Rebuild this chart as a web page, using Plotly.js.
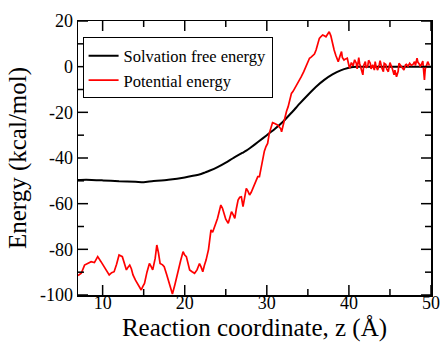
<!DOCTYPE html>
<html>
<head>
<meta charset="utf-8">
<script src="https://cdn.plot.ly/plotly-3.0.1.min.js"></script>
<style>html,body{margin:0;padding:0;background:#fff;}#chart{width:440px;height:342px;}</style>
</head>
<body>
<div id="chart"></div>
<script>
// Solvation free energy (black, smooth)
var solvZ = [7, 8, 10, 12, 14, 15, 16, 18, 20, 21, 22, 22.5, 23, 24, 25, 26, 27, 27.5, 28, 29, 30, 31, 32, 33, 34, 35, 36, 37, 38, 39, 40, 40.5, 41, 42, 44, 46, 48, 50];
var solvE = [-49.6, -49.5, -49.8, -50.2, -50.4, -50.6, -50.2, -49.5, -48.5, -47.8, -47.0, -46.3, -45.6, -44.0, -42.0, -39.8, -37.8, -36.8, -35.5, -32.8, -30.0, -27.2, -24.0, -20.2, -16.2, -12.4, -8.8, -5.8, -3.4, -1.6, -0.5, -0.1, 0, 0, 0, 0, 0, 0];

// Potential energy (red, noisy)
var potZ = [7.0, 7.4, 7.8, 8.2, 8.6, 9.0, 9.2, 9.4, 9.8, 10.2, 10.5, 10.8, 11.1, 11.4, 11.7, 12.0, 12.4, 12.7, 12.9, 13.1, 13.3, 13.5, 13.7, 14.0, 14.3, 14.5, 14.7, 14.9, 15.1, 15.4, 15.7, 15.9, 16.1, 16.4, 16.6, 16.8, 17.0, 17.3, 17.5, 17.8, 18.1, 18.3, 18.5, 18.8, 19.2, 19.5, 19.8, 20.0, 20.2, 20.4, 20.6, 20.9, 21.2, 21.5, 21.8, 22.0, 22.2, 22.4, 22.6, 22.9, 23.2, 23.4, 23.6, 23.8, 24.0, 24.2, 24.4, 24.6, 24.8, 25.0, 25.3, 25.5, 25.7, 25.9, 26.1, 26.3, 26.5, 26.7, 26.9, 27.1, 27.3, 27.5, 27.7, 27.9, 28.1, 28.3, 28.5, 28.7, 28.9, 29.1, 29.3, 29.5, 29.7, 29.9, 30.1, 30.3, 30.5, 30.7, 30.9, 31.1, 31.3, 31.5, 31.7, 31.8, 32.0, 32.2, 32.4, 32.6, 32.8, 33.0, 33.2, 33.4, 33.6, 33.8, 34.0, 34.2, 34.5, 34.8, 35.0, 35.2, 35.4, 35.6, 35.8, 36.0, 36.2, 36.4, 36.6, 36.8, 37.0, 37.2, 37.4, 37.6, 37.8, 37.9, 38.1, 38.2, 38.4, 38.5, 38.7, 38.9, 39.1, 39.2, 39.4, 39.6, 39.8, 40.0, 40.1, 40.3, 40.5, 40.7, 40.9, 41.0, 41.2, 41.3, 41.5, 41.7, 41.8, 42.0, 42.1, 42.3, 42.4, 42.6, 42.7, 42.9, 43.1, 43.2, 43.3, 43.5, 43.7, 43.8, 44.0, 44.2, 44.3, 44.5, 44.6, 44.8, 45.0, 45.2, 45.3, 45.5, 45.6, 45.8, 46.0, 46.1, 46.3, 46.4, 46.6, 46.7, 46.9, 47.0, 47.2, 47.4, 47.6, 47.8, 48.0, 48.1, 48.3, 48.4, 48.6, 48.7, 48.9, 49.0, 49.2, 49.3, 49.5, 49.6, 49.8, 50.0];
var potE = [-91.5, -90.5, -86.9, -86.0, -85.4, -85.8, -84.7, -83.2, -85.4, -87.6, -89.0, -91.2, -90.2, -89.8, -86.5, -82.5, -83.2, -86.5, -89.0, -87.8, -86.9, -88.5, -91.2, -93.5, -95.6, -96.5, -97.8, -96.2, -94.9, -90.0, -86.2, -87.5, -89.0, -84.0, -78.1, -81.5, -86.2, -86.8, -87.6, -91.0, -94.9, -97.0, -99.6, -95.5, -89.0, -85.0, -81.0, -82.5, -83.2, -86.5, -89.0, -89.8, -90.5, -89.0, -86.2, -87.8, -89.8, -87.0, -84.7, -80.0, -71.5, -72.5, -70.0, -68.5, -66.4, -63.5, -60.6, -62.0, -64.3, -66.8, -68.6, -65.5, -63.5, -64.8, -66.4, -62.0, -58.4, -57.2, -57.0, -61.3, -57.5, -53.3, -54.5, -56.2, -55.0, -53.3, -51.0, -49.6, -48.2, -48.2, -44.0, -39.4, -37.0, -35.0, -33.6, -29.2, -27.0, -24.5, -24.8, -25.0, -25.5, -26.3, -27.2, -28.5, -25.0, -21.9, -19.5, -17.5, -15.0, -11.7, -10.8, -9.5, -8.5, -7.3, -6.2, -4.4, -2.2, 0.7, 2.5, 3.7, 4.2, 4.7, 5.5, 7.3, 10.0, 12.4, 13.2, 13.9, 13.5, 13.1, 14.2, 15.3, 13.5, 11.7, 9.5, 7.3, 5.0, 3.7, 2.2, 4.5, 6.6, 4.0, 2.9, 3.4, 3.7, 0.5, -0.7, 1.8, 0.3, 3.0, 1.5, -1.0, 4.0, 1.5, -0.7, -3.6, 0.5, 2.2, -0.5, 0.3, 2.8, 1.5, -1.0, 0.8, -1.5, 2.2, 0.2, -1.5, 1.0, 2.6, -0.5, -2.2, 1.5, 1.0, -1.0, -2.2, 1.8, 0.3, -1.0, -3.6, -1.5, -4.4, -2.0, 1.5, 0.5, 0.3, -1.0, -1.5, 0.8, 1.0, 0.2, 1.5, 0.6, 1.0, 2.2, 0.5, 3.7, 2.0, 1.0, 0.0, 1.5, 2.5, -5.8, -1.0, 1.0, 2.2, 0.5];

var xTickVals = [10, 20, 30, 40, 50];
var yTickVals = [-100, -80, -60, -40, -20, 0, 20];
var xMinorVals = [15, 25, 35, 45];
var yMinorVals = [-90, -70, -50, -30, -10, 10];
var xRange = [7, 50];
var yRange = [-100, 20];

var font = 'Liberation Serif';
var W = 440, H = 342;
var margin = {l: 78, r: 9, t: 21, b: 47};

// inward tick marks on all four sides, drawn as one line trace on the data axes
var xPerPx = (xRange[1] - xRange[0]) / (W - margin.l - margin.r);
var yPerPx = (yRange[1] - yRange[0]) / (H - margin.t - margin.b);
var tickX = [], tickY = [];
function seg(x0, y0, x1, y1) { tickX.push(x0, x1, null); tickY.push(y0, y1, null); }
function xTicks(vals, len) {
  vals.forEach(function (v) {
    seg(v, yRange[0], v, yRange[0] + len * yPerPx);
    seg(v, yRange[1], v, yRange[1] - len * yPerPx);
  });
}
function yTicks(vals, len) {
  vals.forEach(function (v) {
    seg(xRange[0], v, xRange[0] + len * xPerPx, v);
    seg(xRange[1], v, xRange[1] - len * xPerPx, v);
  });
}
xTicks(xTickVals, 10); xTicks(xMinorVals, 6);
yTicks(yTickVals, 10); yTicks(yMinorVals, 6);

var traces = [
  {x: solvZ, y: solvE, type: 'scatter', mode: 'lines', name: 'Solvation free energy',
   line: {color: '#000000', width: 2, shape: 'spline', smoothing: 0.6}},
  {x: potZ, y: potE, type: 'scatter', mode: 'lines', name: 'Potential energy',
   line: {color: '#ff0000', width: 1.7}},
  {x: tickX, y: tickY, type: 'scatter', mode: 'lines', showlegend: false, hoverinfo: 'skip',
   connectgaps: false, line: {color: '#000', width: 1.5}}
];

var layout = {
  width: W, height: H,
  margin: margin,
  paper_bgcolor: '#fff', plot_bgcolor: '#fff',
  showlegend: true,
  font: {family: font, color: '#000'},
  legend: {x: 0.013, y: 0.94, xanchor: 'left', yanchor: 'top',
    bgcolor: '#fff', bordercolor: '#000', borderwidth: 1,
    font: {family: font, size: 16.5, color: '#000'}},
  xaxis: {
    range: xRange, showgrid: false, zeroline: false, showline: true, linecolor: '#000', linewidth: 1.5,
    mirror: true, ticks: '', ticklabelstandoff: -9,
    tickmode: 'array', tickvals: xTickVals, ticktext: xTickVals.map(String),
    tickfont: {family: font, size: 18, color: '#000'},
    title: {text: 'Reaction coordinate, z (\u00C5)', font: {family: font, size: 25, color: '#000'}, standoff: 9}
  },
  yaxis: {
    range: yRange, showgrid: false, zeroline: false, showline: true, linecolor: '#000', linewidth: 1.5,
    mirror: true, ticks: '',
    tickmode: 'array', tickvals: yTickVals, ticktext: yTickVals.map(String),
    tickfont: {family: font, size: 18, color: '#000'},
    title: {text: 'Energy (kcal/mol)', font: {family: font, size: 25, color: '#000'}, standoff: 6}
  }
};

Plotly.newPlot('chart', traces, layout, {staticPlot: true, displayModeBar: false});
</script>
</body>
</html>
